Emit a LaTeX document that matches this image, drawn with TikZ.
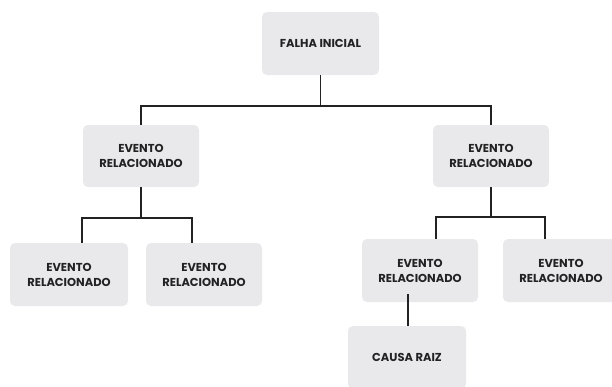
\documentclass[tikz,border=0pt]{standalone}
\usepackage{fontspec}
\setmainfont{Poppins}
\usetikzlibrary{positioning,calc}
\definecolor{caixa}{RGB}{233,233,235}
\definecolor{traco}{RGB}{34,34,34}
\tikzset{evento/.style={fill=caixa,rounded corners=5pt,minimum width=116pt,minimum height=62pt,
  align=center,text=traco,font=\bfseries\fontsize{11.5}{15}\selectfont},
  liga/.style={draw=traco,line width=1.3pt}}
\begin{document}
\begin{tikzpicture}[x=1pt,y=-1pt]
\useasboundingbox (0,0) rectangle (612,386);
\clip (0,0) rectangle (612,386);
\node[evento,minimum width=117pt,minimum height=63pt] (falha) at (320.5,43.5) {FALHA INICIAL};
\node[evento] (ev1) at (141,156) {EVENTO\\RELACIONADO};
\node[evento] (ev2) at (491,156) {EVENTO\\RELACIONADO};
\node[evento,minimum width=118pt,minimum height=63pt] (ev11) at (69,274.5) {EVENTO\\RELACIONADO};
\node[evento,minimum height=63pt] (ev12) at (204,274.5) {EVENTO\\RELACIONADO};
\node[evento,minimum height=63pt] (ev21) at (420,270.5) {EVENTO\\RELACIONADO};
\node[evento,minimum height=63pt] (ev22) at (561,270.5) {EVENTO\\RELACIONADO};
\node[evento,minimum width=118pt,minimum height=63pt] (causa) at (407,357.5) {CAUSA RAIZ};
% ligacoes
\coordinate (j0) at (320.5,106);
\coordinate (j1) at (141,218);
\coordinate (j2) at (491,217);
\draw[liga] (falha.south) -- (j0);
\draw[liga] (ev1.north) |- (j0) -| (ev2.north);
\draw[liga] (ev1.south) -- (j1);
\draw[liga] ([xshift=13pt]ev11.north) |- (j1) -| ([xshift=-12pt]ev12.north);
\draw[liga] (ev2.south) -- (j2);
\draw[liga] ([xshift=16pt]ev21.north) |- (j2) -| ([xshift=-16pt]ev22.north);
\draw[liga] ([xshift=1pt,yshift=8pt]ev21.south -| causa.north) -- ([xshift=1pt]causa.north);
\end{tikzpicture}
\end{document}
